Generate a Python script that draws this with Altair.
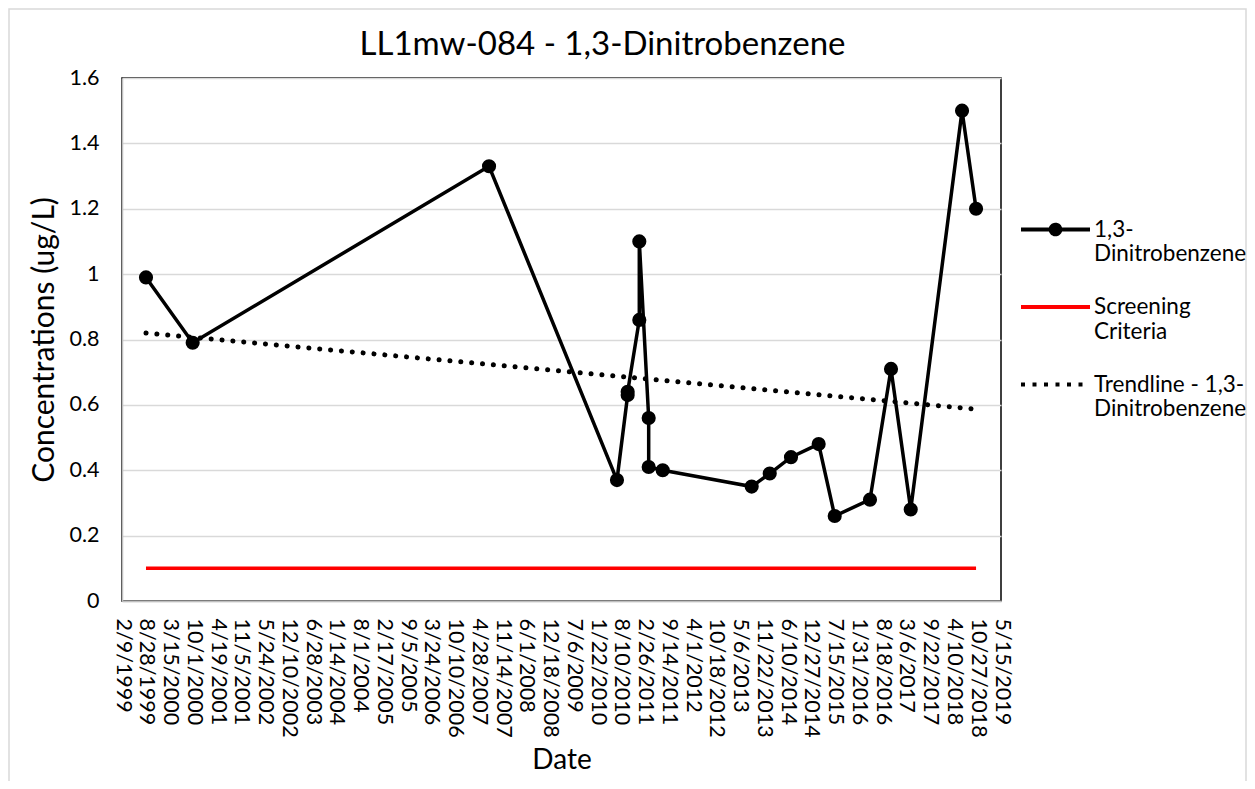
import altair as alt
import pandas as pd

# ---------------- data ----------------
sample_dates = ["1999-08-30", "2000-09-26", "2007-07-27", "2010-07-08", "2010-10-06",
                "2010-10-06", "2011-01-12", "2011-01-12", "2011-04-01", "2011-04-01",
                "2011-07-28", "2013-08-15", "2014-01-14", "2014-07-12", "2015-03-02",
                "2015-07-15", "2016-05-07", "2016-10-31", "2017-04-15", "2018-06-21",
                "2018-10-17"]
sample_values = [0.99, 0.79, 1.33, 0.37, 0.63, 0.64, 0.86, 1.10, 0.56, 0.41, 0.40,
                 0.35, 0.39, 0.44, 0.48, 0.26, 0.31, 0.71, 0.28, 1.50, 1.20]

screen_dates = ["1999-08-30", "2018-10-17"]
screen_values = [0.1, 0.1]

trend_dates = ["1999-08-30", "2018-10-17"]
trend_values = [0.82, 0.587]

series_names = ["1,3-|Dinitrobenzene", "Screening|Criteria", "Trendline - 1,3-|Dinitrobenzene"]

x_tick_labels = ["2/9/1999", "8/28/1999", "3/15/2000", "10/1/2000", "4/19/2001", "11/5/2001",
                 "5/24/2002", "12/10/2002", "6/28/2003", "1/14/2004", "8/1/2004", "2/17/2005",
                 "9/5/2005", "3/24/2006", "10/10/2006", "4/28/2007", "11/14/2007", "6/1/2008",
                 "12/18/2008", "7/6/2009", "1/22/2010", "8/10/2010", "2/26/2011", "9/14/2011",
                 "4/1/2012", "10/18/2012", "5/6/2013", "11/22/2013", "6/10/2014", "12/27/2014",
                 "7/15/2015", "1/31/2016", "8/18/2016", "3/6/2017", "9/22/2017", "4/10/2018",
                 "10/27/2018", "5/15/2019"]
y_ticks = [0, 0.2, 0.4, 0.6, 0.8, 1.0, 1.2, 1.4, 1.6]

# ---------------- helpers ----------------
def to_dt(s):
    m, d, y = (int(p) for p in s.split("/"))
    return alt.DateTime(year=y, month=m, date=d, utc=True)

x_values = [to_dt(s) for s in x_tick_labels]

FONT = "Lato"

samples = pd.DataFrame({"date": sample_dates, "value": sample_values,
                        "idx": list(range(len(sample_dates)))})
screen = pd.DataFrame({"date": screen_dates, "value": screen_values})
trend = pd.DataFrame({"date": trend_dates, "value": trend_values})
legend_df = pd.DataFrame({"series": series_names})
frame_df = pd.DataFrame({"k": [0]})

x_enc = alt.X("date:T",
              title="Date",
              scale=alt.Scale(type="utc", domain=[x_values[0], x_values[-1]], nice=False),
              axis=alt.Axis(values=x_values, format="%-m/%-d/%Y", labelAngle=90,
                            labelAlign="left", labelBaseline="middle",
                            labelPadding=17, ticks=False, grid=False,
                            labelFontSize=21.5, titleFontSize=28, titlePadding=9,
                            labelOverlap=False, labelFlush=False,
                            domainColor="#bfbfbf", domainWidth=1.5,
                            labelColor="#000", titleColor="#000",
                            titleFontWeight="normal"))
y_enc = alt.Y("value:Q",
              title="Concentrations (ug/L)",
              scale=alt.Scale(domain=[0, 1.6], nice=False, zero=True),
              axis=alt.Axis(values=y_ticks, format=".1~f", ticks=False,
                            labelPadding=23, labelFontSize=21.5, titleFontSize=30,
                            titlePadding=9, gridColor="#d9d9d9", gridWidth=1.5,
                            domainColor="#bfbfbf", domainWidth=1.5,
                            labelColor="#000", titleColor="#000",
                            titleFontWeight="normal"))

# legend-only layer (no marks drawn; builds the legend from explicit scale domains)
circle_path = ("M-1,0H1"
               "M0.14,0A0.14,0.14,0,1,1,-0.14,0A0.14,0.14,0,1,1,0.14,0"
               "M0.05,0A0.05,0.05,0,1,1,-0.05,0A0.05,0.05,0,1,1,0.05,0")
line_path = "M-1,0H1"

legend_layer = alt.Chart(legend_df).mark_point(filled=False, opacity=1).encode(
    color=alt.Color("series:N",
                    scale=alt.Scale(domain=series_names, range=["#000000", "#ff0000", "#000000"]),
                    legend=alt.Legend(title=None, orient="none", legendX=897, legendY=115,
                                      labelExpr="split(datum.label, '|')",
                                      labelFontSize=22.5, labelFont=FONT, labelColor="#000",
                                      symbolSize=4761, symbolStrokeWidth=4,
                                      rowPadding=4.5, labelOffset=2, labelLimit=300,
                                      symbolOpacity=1)),
    shape=alt.Shape("series:N",
                    scale=alt.Scale(domain=series_names, range=[circle_path, line_path, line_path])),
    strokeDash=alt.StrokeDash("series:N",
                              scale=alt.Scale(domain=series_names,
                                              range=[[1, 0], [1, 0], [4, 7.5]])),
).transform_filter("false")

# light outer chart-area border
frame_layer = alt.Chart(frame_df).mark_rect(fillOpacity=0, stroke="#d9d9d9", strokeWidth=1.5).encode(
    x=alt.value(-113), x2=alt.value(1124), y=alt.value(-69), y2=alt.value(720))

screen_layer = alt.Chart(screen).mark_line(color="#ff0000", strokeWidth=3.5).encode(
    x=x_enc, y=y_enc)

trend_layer = alt.Chart(trend).mark_line(color="#000000", strokeWidth=5,
                                         strokeDash=[0.1, 10.8], strokeCap="round").encode(
    x=x_enc, y=y_enc)

data_line = alt.Chart(samples).mark_line(color="#000000", strokeWidth=3.5).encode(
    x=x_enc, y=y_enc, order=alt.Order("idx:Q"))

data_points = alt.Chart(samples).mark_circle(color="#000000", size=200, opacity=1).encode(
    x=x_enc, y=y_enc)

chart = alt.layer(legend_layer, frame_layer, screen_layer, trend_layer, data_line,
                  data_points).properties(
    width=879, height=523,
    autosize=alt.AutoSizeParams(type="none"),
    padding={"left": 114, "top": 70, "right": 246, "bottom": 180},
    title=alt.TitleParams("LL1mw-084 - 1,3-Dinitrobenzene", fontSize=33, font=FONT,
                          fontWeight="normal", color="#000", anchor="middle",
                          frame="group", baseline="alphabetic", offset=-80, dx=41),
).configure(font=FONT, background="white").configure_view(
    stroke="#000000", strokeWidth=1.5
).configure_axis(labelFont=FONT, titleFont=FONT)

chart.save("out.html", embed_options={"renderer": "svg", "actions": False})
